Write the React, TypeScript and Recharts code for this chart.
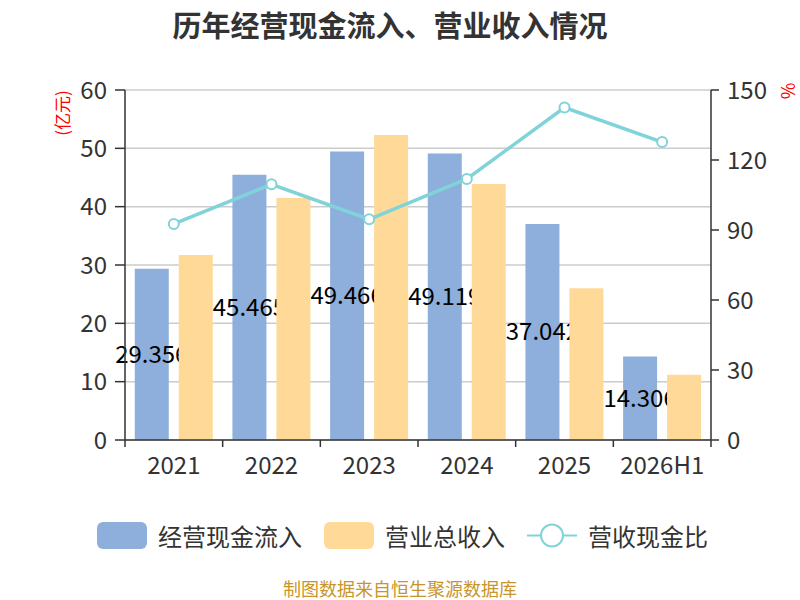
import React from "react";
import {
  Bar,
  CartesianGrid,
  ComposedChart,
  LabelList,
  Line,
  XAxis,
  YAxis,
} from "recharts";

const years = ["2021", "2022", "2023", "2024", "2025", "2026H1"];
const cashInflow = [29.356, 45.465, 49.466, 49.119, 37.042, 14.306];
const revenue = [31.7, 41.5, 52.3, 43.9, 26.0, 11.2];
const cashRatio = [92.6, 109.6, 94.6, 111.9, 142.5, 127.7];
const leftTicks = [0, 10, 20, 30, 40, 50, 60];
const rightTicks = [0, 30, 60, 90, 120, 150];

const BLUE = "#8eaedb";
const ORANGE = "#ffd997";
const TEAL = "#80d3d8";
const FONT = "'Noto Sans CJK SC', 'Noto Sans', sans-serif";

const data = years.map((y, i) => ({
  year: y,
  cash: cashInflow[i],
  rev: revenue[i],
  ratio: cashRatio[i],
}));

// 类目轴：刻度线画在类目边界上，文字在类目中间
function YearTick(props: any) {
  const { x, y, payload, index, visibleTicksCount, width } = props;
  const half =
    payload && payload.offset ? payload.offset : width / visibleTicksCount / 2;
  return (
    <g>
      <line x1={x - half} y1={y} x2={x - half} y2={y + 7} stroke="#333" strokeWidth={1.5} />
      {index === visibleTicksCount - 1 && (
        <line x1={x + half} y1={y} x2={x + half} y2={y + 7} stroke="#333" strokeWidth={1.5} />
      )}
      <text x={x} y={y + 34} textAnchor="middle" fill="#333" fontSize={24}>
        {payload.value}
      </text>
    </g>
  );
}

function LegendItem({ kind, color, text }: { kind: "box" | "line"; color: string; text: string }) {
  return (
    <span style={{ display: "inline-flex", alignItems: "center", marginRight: 22 }}>
      {kind === "box" ? (
        <span
          style={{
            display: "inline-block",
            width: 50,
            height: 27,
            borderRadius: 6,
            background: color,
          }}
        />
      ) : (
        <svg width={50} height={27}>
          <line x1={0} y1={13.5} x2={50} y2={13.5} stroke={color} strokeWidth={2} />
          <circle cx={25} cy={13.5} r={11} fill="#fff" stroke={color} strokeWidth={2} />
        </svg>
      )}
      <span style={{ marginLeft: 11, fontSize: 24, color: "#333", lineHeight: "27px" }}>{text}</span>
    </span>
  );
}

export default function App() {
  return (
    <div
      style={{
        position: "absolute",
        left: 0,
        top: 0,
        width: 800,
        height: 600,
        background: "#fff",
        fontFamily: FONT,
      }}
    >
      <div
        style={{
          position: "absolute",
          left: 0,
          width: 780,
          top: 3,
          textAlign: "center",
          fontSize: 29,
          fontWeight: "bold",
          color: "#333",
        }}
      >
        历年经营现金流入、营业收入情况
      </div>

      <ComposedChart
        width={800}
        height={600}
        data={data}
        margin={{ top: 90, right: 29, left: 65, bottom: 120 }}
        barCategoryGap="10%"
        barGap={10}
      >
        <CartesianGrid yAxisId="left" vertical={false} stroke="#cccccc" strokeWidth={1.5} />
        <XAxis
          dataKey="year"
          height={40}
          axisLine={{ stroke: "#333", strokeWidth: 1.5 }}
          tickLine={false}
          tickSize={0}
          tickMargin={0}
          interval={0}
          tick={<YearTick />}
        />
        <YAxis
          yAxisId="left"
          width={60}
          domain={[0, 60]}
          ticks={leftTicks}
          axisLine={{ stroke: "#333", strokeWidth: 1.5 }}
          tickLine={{ stroke: "#333", strokeWidth: 1.5 }}
          tickSize={10}
          tickMargin={8}
          tick={{ fill: "#333", fontSize: 24 }}
        />
        <YAxis
          yAxisId="right"
          orientation="right"
          width={60}
          domain={[0, 150]}
          ticks={rightTicks}
          axisLine={{ stroke: "#333", strokeWidth: 1.5 }}
          tickLine={{ stroke: "#333", strokeWidth: 1.5 }}
          tickSize={8}
          tickMargin={8}
          tick={{ fill: "#333", fontSize: 24 }}
        />
        <Bar yAxisId="left" dataKey="cash" fill={BLUE} isAnimationActive={false} zIndex={300}>
          <LabelList
            dataKey="cash"
            position="center"
            fill="#000"
            fontSize={24}
            zIndex={310}
            formatter={(v: any) => Number(v).toFixed(3)}
          />
        </Bar>
        <Bar yAxisId="left" dataKey="rev" fill={ORANGE} isAnimationActive={false} zIndex={320} />
        <Line
          yAxisId="right"
          dataKey="ratio"
          type="linear"
          stroke={TEAL}
          strokeWidth={3.5}
          dot={{ r: 5, fill: "#fff", stroke: TEAL, strokeWidth: 2 }}
          isAnimationActive={false}
        />
      </ComposedChart>

      <div
        style={{
          position: "absolute",
          left: 62,
          top: 113,
          transform: "translate(-50%, -50%) rotate(-90deg)",
          fontSize: 17,
          color: "#ff0000",
          whiteSpace: "nowrap",
          lineHeight: "20px",
        }}
      >
        (亿元)
      </div>
      <div
        style={{
          position: "absolute",
          left: 787,
          top: 91,
          transform: "translate(-50%, -50%) rotate(-90deg)",
          fontSize: 18,
          color: "#ff0000",
          lineHeight: "20px",
        }}
      >
        %
      </div>

      <div
        style={{
          position: "absolute",
          left: 97,
          top: 522,
          display: "flex",
          whiteSpace: "nowrap",
        }}
      >
        <LegendItem kind="box" color={BLUE} text="经营现金流入" />
        <LegendItem kind="box" color={ORANGE} text="营业总收入" />
        <LegendItem kind="line" color={TEAL} text="营收现金比" />
      </div>

      <div
        style={{
          position: "absolute",
          left: 0,
          width: 800,
          top: 575,
          textAlign: "center",
          fontSize: 18,
          color: "#c8952a",
        }}
      >
        制图数据来自恒生聚源数据库
      </div>
    </div>
  );
}
